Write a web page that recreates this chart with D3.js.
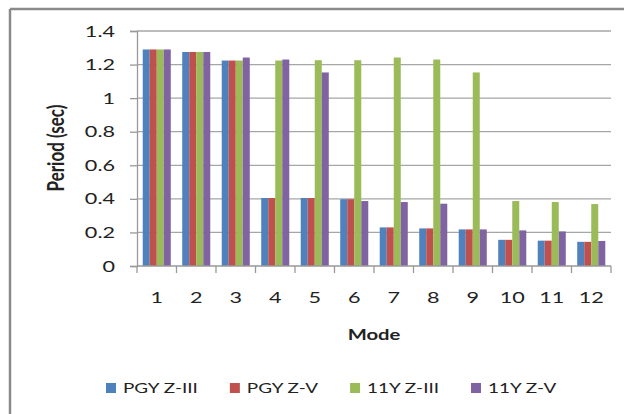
<!DOCTYPE html>
<html>
<head>
<meta charset="utf-8">
<script src="https://cdn.jsdelivr.net/npm/d3@7"></script>
<style>
  body { margin: 0; background: #fff; }
  text { font-family: Lato, "Open Sans", sans-serif; fill: #222; }
</style>
</head>
<body>
<svg id="chart" width="624" height="414"></svg>
<script>
// modes along the x axis
var modes = ['1', '2', '3', '4', '5', '6', '7', '8', '9', '10', '11', '12'];
var seriesNames = ['PGY Z-III', 'PGY Z-V', '11Y Z-III', '11Y Z-V'];
var seriesColors = ['#4f81bd', '#c0504d', '#9bbb59', '#8064a2'];

// periods (sec)
var pgyZ3 = [1.29, 1.275, 1.224, 0.405, 0.405, 0.398, 0.23, 0.224, 0.218, 0.156, 0.151, 0.144];
var pgyZ5 = [1.29, 1.275, 1.224, 0.405, 0.405, 0.398, 0.23, 0.224, 0.218, 0.156, 0.151, 0.144];
var y11Z3 = [1.29, 1.275, 1.224, 1.224, 1.226, 1.226, 1.242, 1.23, 1.153, 0.387, 0.381, 0.369];
var y11Z5 = [1.29, 1.275, 1.242, 1.23, 1.153, 0.387, 0.381, 0.371, 0.218, 0.212, 0.206, 0.149];

var yTicks = [0, 0.2, 0.4, 0.6, 0.8, 1, 1.2, 1.4];

var allSeries = [pgyZ3, pgyZ5, y11Z3, y11Z5];
var sx = 1.35; // text in the picture is drawn wide

var svg = d3.select('#chart');

// frame (only left and top edges are visible)
svg.append('line').attr('x1', 10).attr('x2', 10).attr('y1', 9).attr('y2', 414)
  .attr('stroke', '#8a8a8a').attr('stroke-width', 2.5);
svg.append('line').attr('x1', 10).attr('x2', 624).attr('y1', 9).attr('y2', 9)
  .attr('stroke', '#8a8a8a').attr('stroke-width', 2.5);

var x0 = d3.scaleBand().domain(modes).range([137, 611])
  .paddingInner(0.29).paddingOuter(0.145);
var x1 = d3.scaleBand().domain(d3.range(seriesNames.length)).range([0, x0.bandwidth()]);
var y = d3.scaleLinear().domain([0, 1.4]).range([266, 31]);

// gridlines
svg.append('g').selectAll('line').data(yTicks.slice(1)).join('line')
  .attr('x1', 137).attr('x2', 611)
  .attr('y1', function (d) { return y(d); }).attr('y2', function (d) { return y(d); })
  .attr('stroke', '#a6a6a6').attr('stroke-width', 1.3);

// bars
var groups = svg.append('g').selectAll('g').data(modes).join('g')
  .attr('transform', function (m) { return 'translate(' + x0(m) + ',0)'; });
groups.selectAll('rect')
  .data(function (m, i) { return allSeries.map(function (s, k) { return { k: k, v: s[i] }; }); })
  .join('rect')
  .attr('x', function (d) { return x1(d.k); })
  .attr('width', x1.bandwidth())
  .attr('y', function (d) { return y(d.v); })
  .attr('height', function (d) { return y(0) - y(d.v); })
  .attr('fill', function (d) { return seriesColors[d.k]; });

// y axis
var yAxis = svg.append('g').attr('transform', 'translate(137,0)')
  .call(d3.axisLeft(y).tickValues(yTicks).tickSize(7).tickPadding(15)
    .tickFormat(function (d) { return d === 0 ? '0' : d3.format('~g')(d); }));
yAxis.select('.domain').attr('stroke', '#999').attr('stroke-width', 1.3);
yAxis.selectAll('.tick line').attr('stroke', '#999').attr('stroke-width', 1.3);
yAxis.selectAll('.tick text')
  .attr('font-size', 16).attr('font-family', 'Lato').attr('fill', '#222')
  .attr('transform', function () {
    var xx = +d3.select(this).attr('x');
    return 'translate(' + xx + ',0) scale(' + sx + ',1) translate(' + (-xx) + ',0)';
  });

// x axis with ticks at category boundaries
var xAxis = svg.append('g').attr('transform', 'translate(0,266)');
xAxis.append('line').attr('x1', 137).attr('x2', 611).attr('stroke', '#999').attr('stroke-width', 1.3);
xAxis.selectAll('.bt').data(modes.concat(['end'])).join('line').attr('class', 'bt')
  .attr('x1', function (m, i) { return i < modes.length ? x0(m) - x0.step() * 0.145 : 611; })
  .attr('x2', function (m, i) { return i < modes.length ? x0(m) - x0.step() * 0.145 : 611; })
  .attr('y1', 0).attr('y2', 7).attr('stroke', '#999').attr('stroke-width', 1.3);
xAxis.selectAll('text').data(modes).join('text')
  .attr('text-anchor', 'middle').attr('font-size', 16)
  .attr('transform', function (m) {
    return 'translate(' + (x0(m) + x0.bandwidth() / 2) + ',37) scale(' + sx + ',1)';
  })
  .text(function (m) { return m; });

// axis titles
svg.append('text').attr('text-anchor', 'middle').attr('font-size', 15).attr('font-weight', 'bold')
  .attr('transform', 'translate(374,340) scale(' + sx + ',1)').text('Mode');
svg.append('text').attr('text-anchor', 'middle').attr('font-size', 17).attr('font-weight', 'bold')
  .attr('transform', 'translate(64,148) scale(' + sx + ',1) rotate(-90)').text('Period (sec)');

// legend
var legend = svg.append('g');
var lx = 106;
seriesNames.forEach(function (name, k) {
  var item = legend.append('g').attr('transform', 'translate(' + lx + ',383)');
  item.append('rect').attr('width', 10).attr('height', 10).attr('fill', seriesColors[k]);
  var t = item.append('text').attr('font-size', 14)
    .attr('transform', 'translate(17,10) scale(' + sx + ',1)').text(name);
  lx += 17 + t.node().getComputedTextLength() * sx + 32;
});
</script>
</body>
</html>
